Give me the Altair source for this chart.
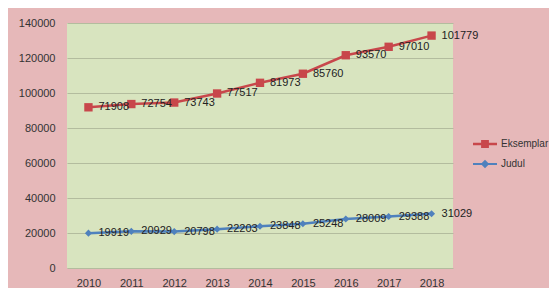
import altair as alt
import pandas as pd

years = ["2010", "2011", "2012", "2013", "2014", "2015", "2016", "2017", "2018"]
judul = [19919, 20929, 20798, 22203, 23848, 25248, 28009, 29388, 31029]
eksemplar = [71908, 72754, 73743, 77517, 81973, 85760, 93570, 97010, 101779]
series_names = ["Eksemplar", "Judul"]
series_colors = ["#c8474b", "#4f81bd"]
y_ticks = [0, 20000, 40000, 60000, 80000, 100000, 120000, 140000]

rows = []
for i, yr in enumerate(years):
    rows.append({"year": yr, "series": "Judul", "value": judul[i], "pos": judul[i]})
    rows.append({"year": yr, "series": "Eksemplar", "value": eksemplar[i],
                 "pos": eksemplar[i] + judul[i]})
df = pd.DataFrame(rows)

FONT = "Liberation Sans"

x_enc = alt.X("year:O", scale=alt.Scale(type="point", padding=0.5),
              axis=alt.Axis(title=None, labelAngle=0, ticks=False, tickSize=0, domain=False,
                            labelFontSize=11, labelColor="#333333", labelFont=FONT,
                            labelBaseline="middle", labelPadding=15))
y_enc = alt.Y("pos:Q", scale=alt.Scale(domain=[0, 140000], nice=False),
              axis=alt.Axis(title=None, values=y_ticks, format="d", ticks=False, tickSize=0,
                            domain=False, grid=True, gridColor="#b3bc9e", gridWidth=1,
                            labelFontSize=11, labelColor="#333333", labelFont=FONT,
                            labelPadding=12))
color_scale = alt.Scale(domain=series_names, range=series_colors)

base = alt.Chart(df)

lines = base.mark_line(strokeWidth=2.5).encode(
    x=x_enc, y=y_enc,
    color=alt.Color("series:N", scale=color_scale, legend=None),
)

points = base.mark_point(filled=True, opacity=1).encode(
    x=x_enc, y=y_enc,
    color=alt.Color("series:N", scale=color_scale, legend=None),
    shape=alt.Shape("series:N", scale=alt.Scale(domain=series_names, range=["square", "diamond"]),
                    legend=None),
    size=alt.Size("series:N", scale=alt.Scale(domain=series_names, range=[70, 50]), legend=None),
)

labels = base.mark_text(align="left", baseline="middle", dx=10, fontSize=11,
                        font=FONT, color="#222222").encode(
    x=x_enc, y=y_enc, text=alt.Text("value:Q", format="d"),
)

path_eks = "M-2,-0.2H2V0.2H-2Z M-0.65,-0.65H0.65V0.65H-0.65Z"
path_jud = "M-2,-0.17H2V0.17H-2Z M0,-0.7L0.7,0L0,0.7L-0.7,0Z"


def make_legend():
    return alt.Legend(title=None, orient="none", legendX=412, legendY=115,
                      padding=0, symbolSize=144, labelOffset=10, rowPadding=9,
                      labelFontSize=10, labelFont=FONT, labelColor="#333333",
                      symbolStrokeWidth=0)


legend_layer = base.transform_filter("datum.value < 0").mark_point(filled=True, opacity=1).encode(
    x=x_enc, y=y_enc,
    color=alt.Color("series:N", scale=color_scale, legend=make_legend()),
    shape=alt.Shape("series:N", scale=alt.Scale(domain=series_names, range=[path_eks, path_jud]),
                    legend=make_legend()),
)

chart = alt.layer(lines, points, labels, legend_layer).resolve_scale(
    shape="independent", color="independent"
).properties(
    width=386, height=245,
    autosize=alt.AutoSizeParams(type="none"),
    padding={"left": 59, "top": 15, "right": 96, "bottom": 20},
    background="#e6b8b9",
).configure_view(fill="#d8e4bf", stroke=None)

chart.save("out.html", embed_options={"renderer": "svg", "actions": False})
